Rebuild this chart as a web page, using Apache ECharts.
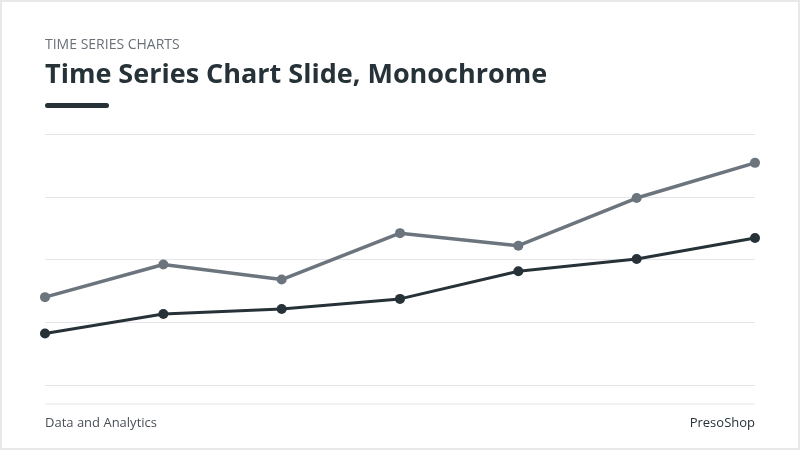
<!DOCTYPE html>
<html><head><meta charset="utf-8">
<script src="https://cdn.jsdelivr.net/npm/echarts@6/dist/echarts.min.js"></script>
<style>html,body{margin:0;padding:0;background:#fff}#c{width:800px;height:450px}</style>
</head><body><div id="c"></div>
<script>
const categories = ["P1","P2","P3","P4","P5","P6","P7"];
const seriesA = [35, 48, 42, 60.5, 55.5, 74.5, 88.5];
const seriesB = [20.5, 28.3, 30.3, 34.3, 45.3, 50.2, 58.6];
const yTicks = [0, 25, 50, 75, 100];

const chart = echarts.init(document.getElementById('c'));
chart.setOption({
  animation: false,
  backgroundColor: '#ffffff',
  grid: {left: 45, right: 45, top: 134, bottom: 65},
  xAxis: {type: 'category', data: categories, boundaryGap: false,
    axisLine: {show: false}, axisTick: {show: false}, axisLabel: {show: false}},
  yAxis: {type: 'value', min: yTicks[0], max: yTicks[yTicks.length-1], interval: 25,
    axisLabel: {show: false}, axisLine: {show: false}, axisTick: {show: false},
    splitLine: {lineStyle: {color: '#e3e5e8', width: 1}}},
  series: [
    {type: 'line', data: seriesA, symbol: 'circle', symbolSize: 10,
      lineStyle: {color: '#6c757d', width: 3.5}, itemStyle: {color: '#6c757d'}},
    {type: 'line', data: seriesB, symbol: 'circle', symbolSize: 10,
      lineStyle: {color: '#263238', width: 3}, itemStyle: {color: '#263238'}}
  ],
  graphic: [
    {type: 'rect', shape: {x: 1, y: 1, width: 798, height: 448}, style: {fill: 'none', stroke: '#e6e8ea', lineWidth: 2}},
    {type: 'text', left: 45, top: 38, style: {text: 'TIME SERIES CHARTS', fill: '#6b7178', font: '14px "Open Sans", sans-serif'}},
    {type: 'text', left: 45, top: 62, style: {text: 'Time Series Chart Slide, Monochrome', fill: '#263238', font: 'bold 27px "Open Sans", sans-serif'}},
    {type: 'rect', shape: {x: 45, y: 103, width: 64, height: 5, r: 2.5}, style: {fill: '#263238'}},
    {type: 'line', shape: {x1: 45, y1: 404, x2: 755, y2: 404}, style: {stroke: '#e3e5e8', lineWidth: 1}},
    {type: 'text', left: 45, top: 417, style: {text: 'Data and Analytics', fill: '#4a5057', font: '13px "Open Sans", sans-serif'}},
    {type: 'text', right: 45, top: 417, style: {text: 'PresoShop', fill: '#263238', font: '13px "Open Sans", sans-serif'}}
  ]
});
</script></body></html>
